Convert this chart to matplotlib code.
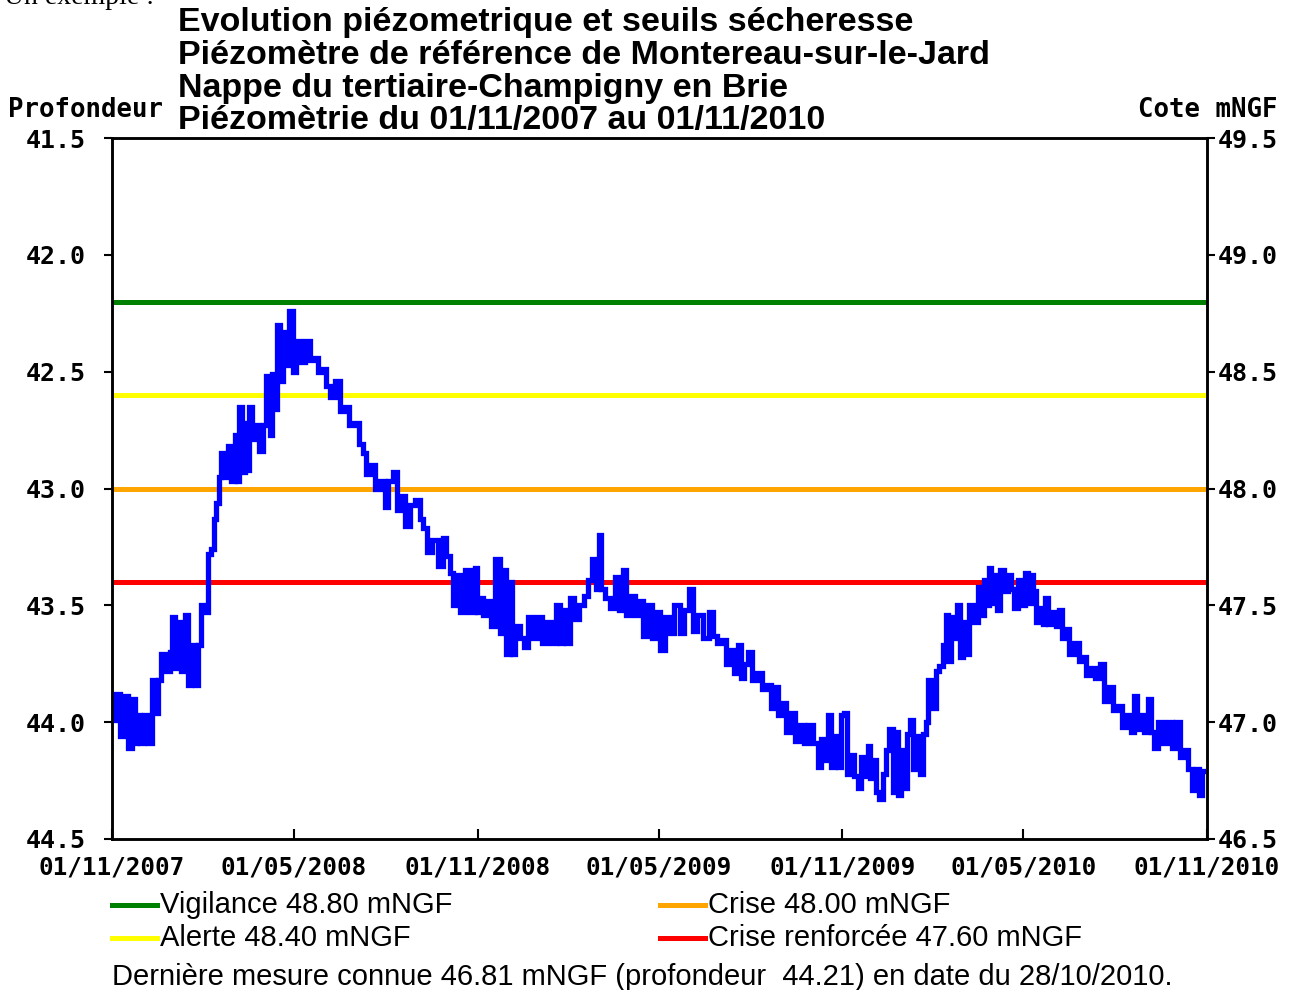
import matplotlib
matplotlib.use("Agg")

import datetime as dt
import matplotlib.pyplot as plt
import matplotlib.dates as mdates
from matplotlib.lines import Line2D

# ------------------ DATA ------------------

START = dt.date(2007, 11, 1)
END = dt.date(2010, 11, 1)
GROUND = 91.0  # profondeur + cote mNGF

# days since START, profondeur (m)
DAYS = [
    0, 6, 11, 13, 20, 21, 25, 26, 31, 33, 40, 41, 45, 48, 51, 56, 60, 61, 65, 68,
    71, 75, 78, 81, 85, 88, 91, 95, 98, 101, 103, 106, 108, 111, 115, 118, 121, 125, 126, 129,
    131, 135, 136, 139, 141, 145, 150, 153, 156, 160, 161, 165, 166, 170, 173, 176, 179, 180, 182, 186,
    190, 196, 200, 205, 208, 213, 216, 220, 227, 230, 235, 240, 245, 250, 253, 256, 261, 266, 271, 275,
    278, 284, 286, 291, 296, 301, 306, 310, 313, 318, 323, 330, 332, 336, 340, 343, 346, 351, 356, 361,
    365, 366, 370, 373, 378, 381, 386, 390, 393, 396, 400, 401, 406, 410, 415, 418, 423, 428, 433, 438,
    443, 446, 450, 453, 456, 460, 465, 470, 475, 478, 483, 486, 488, 491, 496, 501, 506, 509, 513, 516,
    521, 526, 530, 533, 538, 543, 548, 550, 552, 556, 560, 566, 571, 575, 580, 583, 588, 595, 601, 603,
    608, 613, 616, 621, 625, 628, 631, 635, 639, 643, 648, 653, 658, 661, 665, 668, 673, 676, 681, 686,
    690, 695, 698, 705, 708, 711, 715, 718, 721, 726, 728, 731, 735, 736, 741, 745, 748, 751, 755, 758,
    760, 763, 766, 770, 773, 776, 780, 783, 785, 788, 791, 795, 796, 801, 803, 808, 810, 813, 816, 818,
    823, 826, 830, 833, 836, 838, 841, 845, 847, 850, 853, 856, 860, 865, 868, 871, 875, 877, 879, 881,
    885, 887, 891, 895, 898, 901, 905, 908, 911, 916, 918, 921, 923, 926, 930, 933, 935, 938, 943, 946,
    950, 952, 956, 960, 965, 970, 973, 976, 981, 986, 991, 994, 1000, 1003, 1008, 1013, 1018, 1021, 1025, 1026,
    1031, 1035, 1039, 1041, 1045, 1048, 1055, 1058, 1063, 1066, 1071, 1075, 1078, 1083, 1086, 1090, 1092,
]
PROFONDEUR = [
    43.99, 43.88, 44.06, 43.89, 44.11, 43.90, 44.09, 43.97, 44.09, 43.97, 44.09, 43.82, 43.96, 43.82, 43.71, 43.78, 43.70, 43.55, 43.77, 43.57,
    43.78, 43.54, 43.84, 43.67, 43.84, 43.67, 43.50, 43.53, 43.28, 43.26, 43.13, 43.06, 42.95, 42.85, 42.95, 42.82, 42.97, 42.77, 42.97, 42.65,
    42.93, 42.72, 42.92, 42.65, 42.79, 42.73, 42.84, 42.73, 42.52, 42.77, 42.51, 42.66, 42.30, 42.54, 42.33, 42.47, 42.24, 42.24, 42.50, 42.37,
    42.46, 42.37, 42.45, 42.44, 42.50, 42.49, 42.56, 42.61, 42.54, 42.67, 42.65, 42.73, 42.72, 42.81, 42.85, 42.94, 42.90, 43.00, 42.97, 43.08,
    42.97, 42.93, 43.09, 43.03, 43.16, 43.07, 43.05, 43.13, 43.17, 43.27, 43.22, 43.33, 43.21, 43.29, 43.36, 43.50, 43.37, 43.53, 43.35, 43.53,
    43.34, 43.53, 43.47, 43.54, 43.48, 43.59, 43.30, 43.62, 43.35, 43.71, 43.40, 43.71, 43.59, 43.64, 43.68, 43.55, 43.64, 43.55, 43.66, 43.57,
    43.66, 43.50, 43.66, 43.52, 43.66, 43.47, 43.56, 43.50, 43.46, 43.39, 43.30, 43.43, 43.20, 43.43, 43.47, 43.51, 43.38, 43.52, 43.35, 43.54,
    43.46, 43.54, 43.48, 43.63, 43.50, 43.64, 43.53, 43.69, 43.69, 43.55, 43.62, 43.50, 43.62, 43.52, 43.43, 43.61, 43.54, 43.64, 43.53, 43.63,
    43.66, 43.65, 43.75, 43.69, 43.79, 43.67, 43.81, 43.75, 43.70, 43.82, 43.79, 43.86, 43.84, 43.94, 43.85, 43.97, 43.92, 44.04, 43.96, 44.08,
    44.01, 44.09, 44.01, 44.09, 44.19, 44.07, 44.16, 43.97, 44.19, 44.06, 44.19, 43.97, 43.96, 44.22, 44.14, 44.23, 44.28, 44.15, 44.23, 44.10,
    44.24, 44.16, 44.30, 44.33, 44.22, 44.12, 44.03, 44.30, 44.04, 44.31, 44.12, 44.28, 44.05, 43.99, 44.20, 44.06, 44.22, 44.05, 44.00, 43.82,
    43.94, 43.78, 43.76, 43.67, 43.54, 43.74, 43.55, 43.64, 43.50, 43.72, 43.57, 43.71, 43.50, 43.57, 43.42, 43.54, 43.39, 43.50, 43.34, 43.49,
    43.37, 43.52, 43.35, 43.44, 43.37, 43.43, 43.51, 43.39, 43.50, 43.36, 43.49, 43.37, 43.44, 43.57, 43.51, 43.58, 43.47, 43.58, 43.53, 43.59,
    43.52, 43.64, 43.60, 43.71, 43.66, 43.74, 43.72, 43.80, 43.77, 43.81, 43.75, 43.91, 43.85, 43.95, 43.93, 44.02, 43.97, 44.04, 43.89, 44.03,
    43.97, 44.04, 43.90, 44.04, 44.11, 44.00, 44.09, 44.00, 44.11, 44.00, 44.15, 44.12, 44.20, 44.29, 44.20, 44.31, 44.21,
]

SEUIL_NOMS = ["Vigilance", "Alerte", "Crise", "Crise renforcée"]
SEUIL_COTES = [48.80, 48.40, 48.00, 47.60]
SEUIL_COULEURS = ["#008000", "#ffff00", "#ffa500", "#ff0000"]

TITLE_LINES = [
    "Evolution piézometrique et seuils sécheresse",
    "Piézomètre de référence de Montereau-sur-le-Jard",
    "Nappe du tertiaire-Champigny en Brie",
    "Piézomètrie du 01/11/2007 au 01/11/2010",
]

# last known measurement, as printed under the chart
DERNIERE_COTE = 46.81
DERNIERE_PROF = 44.21
DERNIERE_DATE = "28/10/2010"

X_TICKS = [dt.date(2007, 11, 1), dt.date(2008, 5, 1), dt.date(2008, 11, 1),
           dt.date(2009, 5, 1), dt.date(2009, 11, 1), dt.date(2010, 5, 1),
           dt.date(2010, 11, 1)]
Y_TICKS = [41.5, 42.0, 42.5, 43.0, 43.5, 44.0, 44.5]

# ------------------ FIGURE ------------------

W, H = 1289, 990
fig = plt.figure(figsize=(W / 100, H / 100), dpi=100)
fig.patch.set_facecolor("white")

def fx(px):
    return px / W

def fy(py):
    return 1 - py / H

ax = fig.add_axes([fx(112), fy(839), fx(1207) - fx(112), fy(138) - fy(839)])

dates = [START + dt.timedelta(days=d) for d in DAYS]

for cote, col in zip(SEUIL_COTES, SEUIL_COULEURS):
    ax.axhline(GROUND - cote, color=col, lw=3.6, zorder=2)

ax.plot(dates, PROFONDEUR, color="#0000ff", lw=3.8, drawstyle="steps-mid",
        solid_joinstyle="miter", zorder=3)

ax.set_xlim(START, END)
ax.set_ylim(44.5, 41.5)

mono = dict(family="DejaVu Sans Mono", weight="bold")

ax.set_yticks(Y_TICKS)
ax.set_yticklabels(["%.1f" % v for v in Y_TICKS], fontsize=18, **mono)
ax.tick_params(axis="y", direction="out", length=6, width=1.5, pad=13)

ax.set_xticks(X_TICKS)
ax.xaxis.set_major_formatter(mdates.DateFormatter("%d/%m/%Y"))
for lab in ax.get_xticklabels():
    lab.set_fontfamily("DejaVu Sans Mono")
    lab.set_fontweight("bold")
    lab.set_fontsize(17.5)
ax.tick_params(axis="x", direction="in", length=7, width=1.5, pad=12)

for sp in ax.spines.values():
    sp.set_linewidth(1.8)

ax2 = ax.twinx()
ax2.set_ylim(GROUND - 44.5, GROUND - 41.5)
cote_ticks = [GROUND - v for v in Y_TICKS]
ax2.set_yticks(cote_ticks)
ax2.set_yticklabels(["%.1f" % v for v in cote_ticks], fontsize=18, **mono)
ax2.tick_params(axis="y", direction="out", length=6, width=1.5, pad=2)
for sp in ax2.spines.values():
    sp.set_linewidth(1.8)

# ------------------ TEXTS ------------------

title_y = [22, 55, 88, 120]
for line, y in zip(TITLE_LINES, title_y):
    fig.text(fx(178), fy(y), line, fontsize=24.5, fontweight="bold",
             family="Liberation Sans", va="center", ha="left")

fig.text(fx(8), fy(110), "Profondeur", fontsize=18.5, va="center", ha="left", **mono)
fig.text(fx(1277), fy(110), "Cote mNGF", fontsize=18.5, va="center", ha="right", **mono)

fig.text(fx(4), fy(-3), "Un exemple :", fontsize=20, family="Liberation Serif",
         va="center", ha="left")

# legend, two columns
leg_pos = [(112, 905), (112, 938), (660, 905), (660, 938)]
for nom, cote, col, (x0, y0) in zip(SEUIL_NOMS, SEUIL_COTES, SEUIL_COULEURS, leg_pos):
    fig.add_artist(Line2D([fx(x0), fx(x0 + 45)], [fy(y0), fy(y0)],
                          color=col, lw=3.6, transform=fig.transFigure))
    fig.text(fx(x0 + 48), fy(y0), "%s %.2f mNGF" % (nom, cote), fontsize=21,
             family="Liberation Sans", va="center", ha="left")

fig.text(fx(112), fy(977),
         "Dernière mesure connue %.2f mNGF (profondeur  %.2f) en date du %s."
         % (DERNIERE_COTE, DERNIERE_PROF, DERNIERE_DATE),
         fontsize=21, family="Liberation Sans", va="center", ha="left")

fig.savefig("out.png", dpi=100, facecolor="white")
plt.close(fig)
